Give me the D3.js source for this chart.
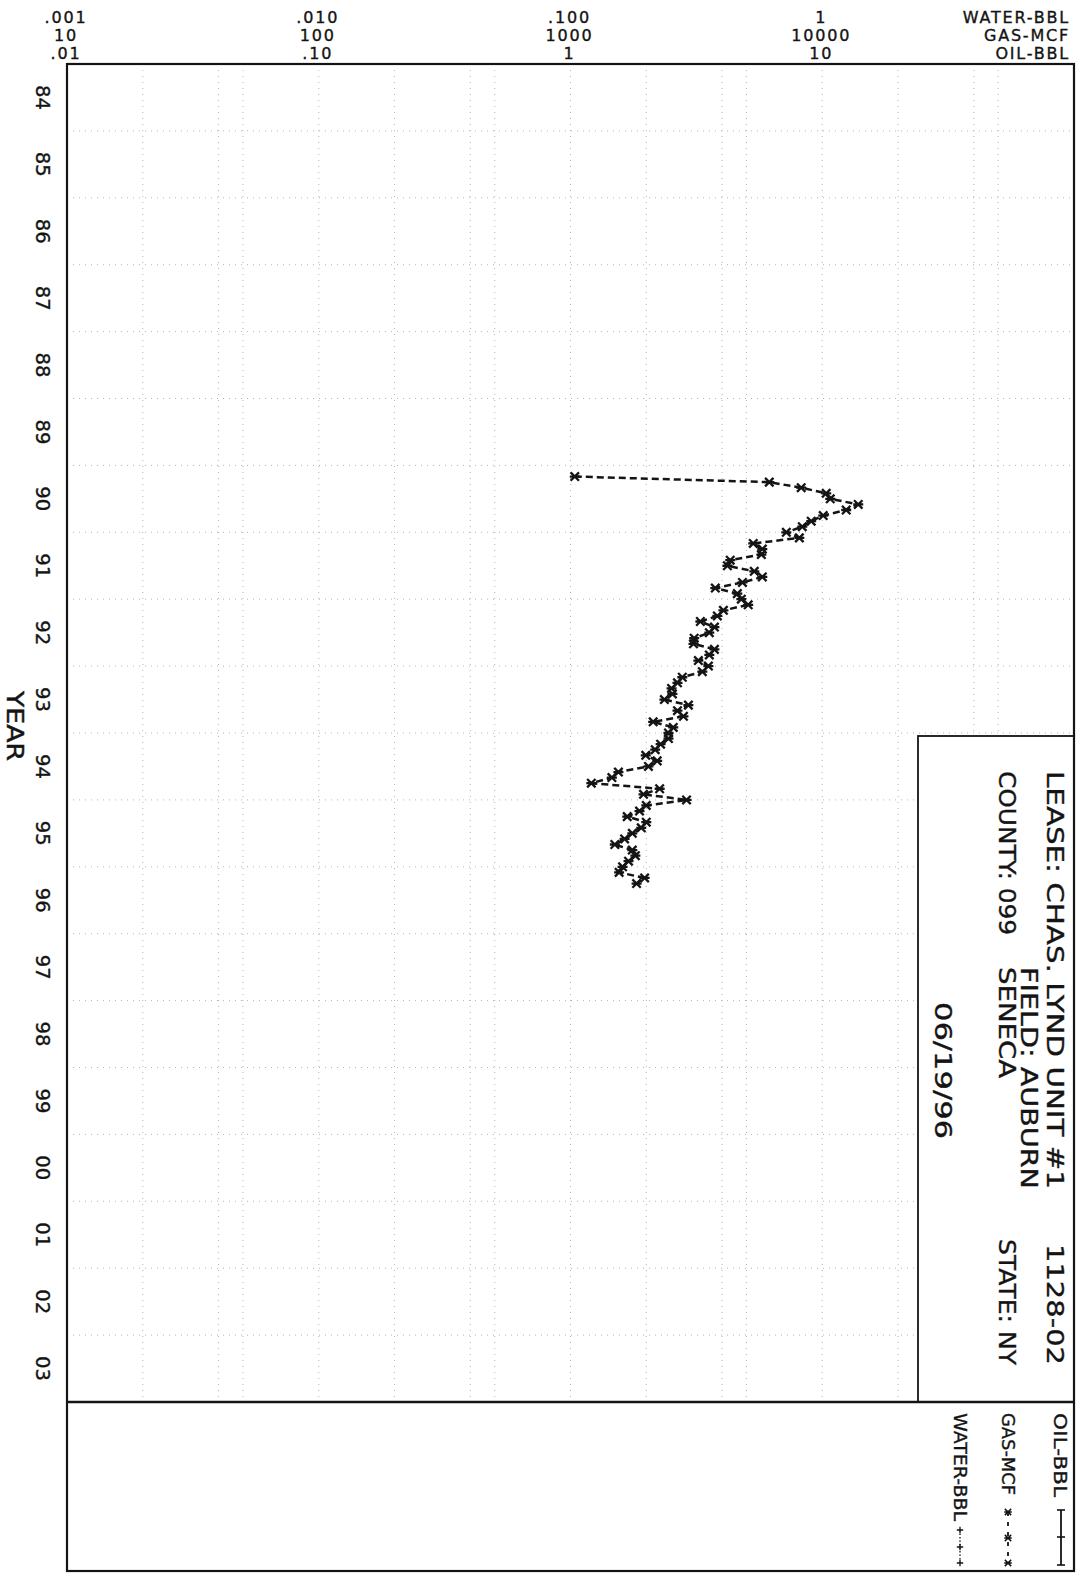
<!DOCTYPE html>
<html><head><meta charset="utf-8">
<script src="https://cdn.jsdelivr.net/npm/d3@7/dist/d3.min.js"></script>
<style>
body{margin:0;background:#fff}
svg{display:block}
text{font-family:"DejaVu Sans",sans-serif;fill:#141414;stroke:#141414;stroke-width:0.35px}
</style>
</head><body>
<svg id="c" width="1078" height="1579"></svg>
<script>
// ---------------- DATA ----------------
const yearLabels = ["84","85","86","87","88","89","90","91","92","93","94","95","96","97","98","99","00","01","02","03"];
const yearDomain = [1984, 2004];
const gasDomain = [10, 100000];
const waterDomain = [0.001, 10];
const oilDomain = [0.01, 100];
const waterTickLabels = [".001", ".010", ".100", "1"];
const gasTickLabels = ["10", "100", "1000", "10000"];
const oilTickLabels = [".01", ".10", "1", "10"];
const gasTickValues = [10, 100, 1000, 10000];
const unitLabels = ["WATER-BBL", "GAS-MCF", "OIL-BBL"];
const gridMultipliers = [2, 4, 5, 10];
// monthly gas production (MCF), first month Feb 1990
const gasStartYear = 1990, gasStartMonth = 2;
const gasMcf = [1040, 6160, 8250, 10370, 10760, 13900, 12450, 10090, 9040, 8330,
  7200, 8110, 5320, 5780, 5730, 4310, 4200, 5370, 5780, 4820,
  3760, 4600, 4770, 5080, 4050, 3830, 3280, 3730, 3560, 3100,
  3080, 3730, 3560, 3220, 3530, 3340, 2780, 2660, 2520, 2540,
  2360, 2940, 2660, 2810, 2130, 2560, 2450, 2450, 2280, 2170,
  1990, 2210, 2040, 1550, 1460, 1210, 2260, 1950, 2890, 2000,
  1880, 1680, 2000, 1910, 1760, 1640, 1500, 1760, 1810, 1700,
  1610, 1560, 1970, 1830];
const oilBbl = [];
const waterBbl = [];
const info = {
  lease: "LEASE: CHAS. LYND UNIT #1", id: "1128-02",
  field: "FIELD: AUBURN", county: "COUNTY: 099", countyName: "SENECA",
  state: "STATE: NY", date: "06/19/96"
};
const legendNames = ["OIL-BBL", "GAS-MCF", "WATER-BBL"];

// ---------------- LAYOUT ----------------
const L = 67, R = 1074, T = 64, B = 1402, LB = 1571;
const boxL = 918, boxT = 736;
const ink = "#141414";

const svg = d3.select("#c");
const y = d3.scaleLinear().domain(yearDomain).range([T, B]);
const xGas = d3.scaleLog().domain(gasDomain).range([L, R]);
const xWater = d3.scaleLog().domain(waterDomain).range([L, R]);
const xOil = d3.scaleLog().domain(oilDomain).range([L, R]);

// ---------------- GRID ----------------
const grid = svg.append("g").attr("stroke", "#b4b4b4").attr("stroke-width", 1)
  .attr("stroke-dasharray", "1 5").attr("fill", "none");
const gridVals = [];
gasTickValues.forEach(d => gridMultipliers.forEach(m => { if (d * m < gasDomain[1]) gridVals.push(d * m); }));
grid.selectAll("line.v").data(gridVals).join("line").attr("class", "v")
  .attr("x1", d => xGas(d)).attr("x2", d => xGas(d)).attr("y1", T).attr("y2", B);
const yearBounds = d3.range(yearDomain[0] + 1, yearDomain[1]);
grid.selectAll("line.h").data(yearBounds).join("line").attr("class", "h")
  .attr("x1", L).attr("x2", R).attr("y1", d => y(d)).attr("y2", d => y(d));

// info box (covers grid)
svg.append("rect").attr("x", boxL).attr("y", boxT).attr("width", R - boxL).attr("height", B - boxT)
  .attr("fill", "#fff").attr("stroke", ink).attr("stroke-width", 1.8);

// ---------------- FRAME ----------------
svg.append("rect").attr("x", L).attr("y", T).attr("width", R - L).attr("height", LB - T)
  .attr("fill", "none").attr("stroke", ink).attr("stroke-width", 2.2);
svg.append("line").attr("x1", L).attr("x2", R).attr("y1", B).attr("y2", B)
  .attr("stroke", ink).attr("stroke-width", 2.5);

// ---------------- TOP TICK LABELS ----------------
const topLabels = svg.append("g").attr("font-size", 16).attr("letter-spacing", 1.8).attr("text-anchor", "middle");
const rowsY = [23, 41, 59];
[waterTickLabels, gasTickLabels, oilTickLabels].forEach((labels, r) => {
  topLabels.selectAll(null).data(labels).join("text")
    .attr("x", (d, i) => xGas(gasTickValues[i]) - 1)
    .attr("y", rowsY[r]).text(d => d);
});
topLabels.selectAll(null).data(unitLabels).join("text")
  .attr("text-anchor", "end").attr("x", R - 4).attr("y", (d, i) => rowsY[i]).text(d => d);

// rotated text helper
function vtext(g, x, yy, str, size, anchor, len) {
  const t = g.append("text").attr("transform", `translate(${x},${yy}) rotate(90)`)
    .attr("dy", "0.36em").attr("font-size", size).attr("text-anchor", anchor || "start").text(str);
  if (len) t.attr("textLength", len).attr("lengthAdjust", "spacingAndGlyphs");
  return t;
}

// ---------------- YEAR LABELS ----------------
const yl = svg.append("g");
yearLabels.forEach((lab, i) => {
  vtext(yl, 43, y(yearDomain[0] + i + 0.5), lab, 19, "middle", 25);
});
vtext(yl, 15, 726, "YEAR", 23, "middle", 70).style("stroke-width", "0.45px");

// ---------------- INFO BOX TEXT ----------------
const ib = svg.append("g").style("stroke-width", "0.45px");
vtext(ib, 1055, 771, info.lease, 23, "start", 418);
vtext(ib, 1055, 1244, info.id, 23, "start", 121);
vtext(ib, 1029, 967, info.field, 23, "start", 222);
vtext(ib, 1007, 771, info.county, 23, "start", 164);
vtext(ib, 1007, 967, info.countyName, 23, "start", 111);
vtext(ib, 1007, 1239, info.state, 23, "start", 126);
vtext(ib, 943, 1002, info.date, 23, "start", 137);

// ---------------- LEGEND ----------------
const lg = svg.append("g");
const legX = [1060, 1008, 960];
const legLen = [84, 82, 108];
legendNames.forEach((n, i) => vtext(lg, legX[i], 1413, n, 17, "start", legLen[i]));
const star = "M-4.2,-4.2L4.2,4.2M-4.2,4.2L4.2,-4.2M-5,0L5,0";
const plus = "M-4,0L4,0M0,-4L0,4";
lg.append("line").attr("x1", 1061).attr("x2", 1061).attr("y1", 1510).attr("y2", 1565).attr("stroke", ink).attr("stroke-width", 1.8);
[1510, 1537, 1565].forEach(v => lg.append("path").attr("d", "M-4,0L4,0").attr("transform", `translate(1061,${v})`).attr("stroke", ink).attr("stroke-width", 1.6));
lg.append("line").attr("x1", 1008).attr("x2", 1008).attr("y1", 1512).attr("y2", 1563).attr("stroke", ink).attr("stroke-width", 1.8).attr("stroke-dasharray", "4 6");
[1512, 1538, 1563].forEach(v => lg.append("path").attr("d", star).attr("transform", `translate(1008,${v}) scale(0.75)`).attr("stroke", ink).attr("stroke-width", 2));
lg.append("line").attr("x1", 960).attr("x2", 960).attr("y1", 1530).attr("y2", 1563).attr("stroke", ink).attr("stroke-width", 1.3).attr("stroke-dasharray", "1.5 2");
[1530, 1547, 1563].forEach(v => lg.append("path").attr("d", plus).attr("transform", `translate(960,${v}) scale(0.8)`).attr("stroke", ink).attr("stroke-width", 1.6));

// ---------------- SERIES ----------------
const gasPts = gasMcf.map((v, i) => ({ t: gasStartYear + (gasStartMonth + i) / 12, v }));
const line = d3.line().x(d => xGas(d.v)).y(d => y(d.t));
svg.append("path").datum(gasPts).attr("d", line).attr("fill", "none")
  .attr("stroke", ink).attr("stroke-width", 2.5).attr("stroke-dasharray", "7 4");
svg.append("g").selectAll("path").data(gasPts).join("path")
  .attr("d", star).attr("transform", d => `translate(${xGas(d.v)},${y(d.t)})`)
  .attr("stroke", ink).attr("stroke-width", 2.3).attr("fill", "none");

const oilPts = oilBbl.map((v, i) => ({ t: gasStartYear + (gasStartMonth + i) / 12, v }));
svg.append("path").datum(oilPts).attr("d", d3.line().x(d => xOil(d.v)).y(d => y(d.t)))
  .attr("fill", "none").attr("stroke", ink);
const waterPts = waterBbl.map((v, i) => ({ t: gasStartYear + (gasStartMonth + i) / 12, v }));
svg.append("path").datum(waterPts).attr("d", d3.line().x(d => xWater(d.v)).y(d => y(d.t)))
  .attr("fill", "none").attr("stroke", ink);
</script>
</body></html>
